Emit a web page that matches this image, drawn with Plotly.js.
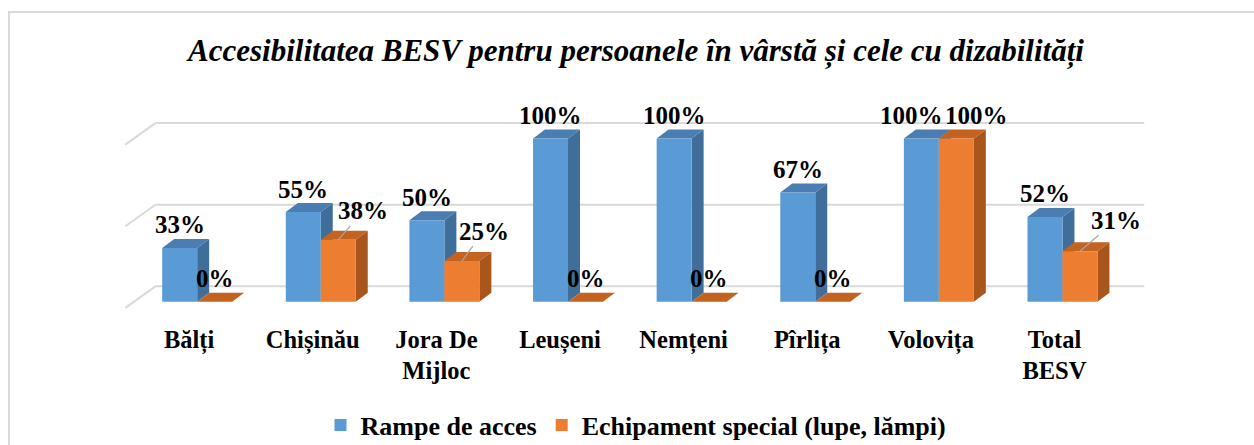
<!DOCTYPE html>
<html><head><meta charset="utf-8">
<script src="https://cdn.plot.ly/plotly-3.0.1.min.js"></script>
<style>
html,body{margin:0;padding:0;background:#fff;overflow:hidden;}
#frame{position:absolute;left:8px;top:11px;width:1300px;height:500px;border-left:2px solid #dadada;border-top:2px solid #dadada;}
#chart{position:absolute;left:0;top:0;width:1254px;height:445px;}
</style></head><body>
<div id="frame"></div>
<div id="chart"></div>
<script>
// ---- data ----
const categories = ['Bălți', 'Chișinău', 'Jora De<br>Mijloc', 'Leușeni', 'Nemțeni', 'Pîrlița', 'Volovița', 'Total<br>BESV'];
const rampe = [33, 55, 50, 100, 100, 67, 100, 52];
const echipament = [0, 38, 25, 0, 0, 0, 100, 31];
const seriesNames = ['Rampe de acces', 'Echipament special (lupe, lămpi)'];
const gridValues = [0, 50, 100];
const titleText = 'Accesibilitatea BESV pentru persoanele în vârstă și cele cu dizabilități';

// ---- style ----
const FONT = 'Liberation Serif';
const W = 0.283;     // bar width (x units)
const DX = 0.097;    // 3D depth in x units
const DY = 5.5;      // 3D depth in y units
const GDX = 0.162;   // back-wall depth x
const GDY = 9.5;     // back-wall depth y
const colors = {
  blue: '#5b9bd5', blueSide: '#3f6e9b', blueTop: '#4a7db2',
  orange: '#ed7d31', orangeSide: '#a9561c', orangeTop: '#c4621f'
};
// label nudges (pixels): plain labels use xshift, leader labels use ax/ay
const blueShift = [0, 0, 0, 0, 0, 0, -10, 0];
const orangeShift = [0, 0, 0, 0, 0, 0, 20, 0];
const orangeLeader = {1: [25, -29], 2: [22, -30], 7: [36, -31]};

const xs = categories.map((c, i) => i);

const traces = [
  {type: 'bar', x: xs, y: rampe, name: seriesNames[0], width: W, offset: -W,
   marker: {color: colors.blue, line: {width: 0}}, hoverinfo: 'skip'},
  {type: 'bar', x: xs, y: echipament, name: seriesNames[1], width: W, offset: 0,
   marker: {color: colors.orange, line: {width: 0}}, hoverinfo: 'skip'}
];

const shapes = [];
// back-wall gridlines
gridValues.forEach(v => {
  shapes.push({type: 'line', layer: 'below', xref: 'x', yref: 'y',
    x0: -0.5 + GDX, x1: 7.5 + GDX, y0: v + GDY, y1: v + GDY,
    line: {color: '#d9d9d9', width: 2}});
  shapes.push({type: 'line', layer: 'below', xref: 'x', yref: 'y',
    x0: -0.5 - GDX / 2, x1: -0.5 + GDX, y0: v - GDY * 0.39, y1: v + GDY,
    line: {color: '#d9d9d9', width: 2}});
});
function box3d(xl, xr, v, side, top) {
  shapes.push({type: 'path', layer: 'between', xref: 'x', yref: 'y',
    path: `M${xr},0 L${xr + DX},${DY} L${xr + DX},${v + DY} L${xr},${v} Z`,
    fillcolor: side, line: {width: 0}});
  shapes.push({type: 'path', layer: 'between', xref: 'x', yref: 'y',
    path: `M${xl},${v} L${xl + DX},${v + DY} L${xr + DX},${v + DY} L${xr},${v} Z`,
    fillcolor: top, line: {width: 0}});
}
xs.forEach(i => box3d(i - W, i, rampe[i], colors.blueSide, colors.blueTop));
xs.forEach(i => box3d(i, i + W, echipament[i], colors.orangeSide, colors.orangeTop));

const labelFont = {family: FONT, size: 25, color: '#000', weight: 'bold'};
const annotations = [];
xs.forEach(i => {
  annotations.push({xref: 'x', yref: 'y', x: i - W / 2, y: rampe[i], text: rampe[i] + '%',
    showarrow: false, xanchor: 'center', yanchor: 'middle',
    xshift: blueShift[i], yshift: 23, font: labelFont});
  if (orangeLeader[i]) {
    annotations.push({xref: 'x', yref: 'y', x: i + W / 2, y: echipament[i], text: echipament[i] + '%',
      showarrow: true, arrowhead: 0, arrowwidth: 1.2, arrowcolor: '#a6a6a6',
      ax: orangeLeader[i][0], ay: orangeLeader[i][1], standoff: 0, font: labelFont});
  } else {
    annotations.push({xref: 'x', yref: 'y', x: i + W / 2, y: echipament[i], text: echipament[i] + '%',
      showarrow: false, xanchor: 'center', yanchor: 'middle',
      xshift: orangeShift[i], yshift: 23, font: labelFont});
  }
});

const layout = {
  width: 1254, height: 445,
  margin: {l: 123, r: 105, t: 119, b: 135},
  paper_bgcolor: 'rgba(0,0,0,0)', plot_bgcolor: 'rgba(0,0,0,0)',
  barmode: 'overlay',
  title: {text: titleText, x: 0.5, xref: 'paper', xanchor: 'center',
    y: 0.888, yref: 'container', yanchor: 'middle',
    font: {family: FONT, size: 31, color: '#000', weight: 'bold', style: 'italic'}},
  xaxis: {range: [-0.6, 7.7], tickmode: 'array', tickvals: xs.map(i => i - 0.065), ticktext: categories,
    showgrid: false, zeroline: false, showline: false, ticks: '', ticklabelstandoff: 12,
    tickfont: {family: FONT, size: 24.5, color: '#000', weight: 'bold'}, fixedrange: true},
  yaxis: {range: [-5, 112], showgrid: false, zeroline: false, showline: false,
    showticklabels: false, ticks: '', fixedrange: true},
  showlegend: true,
  legend: {orientation: 'h', x: 0.5, xanchor: 'center', y: 0.045, yref: 'container', yanchor: 'middle',
    font: {family: FONT, size: 26, color: '#000', weight: 'bold'}, bgcolor: 'rgba(0,0,0,0)'},
  shapes: shapes,
  annotations: annotations
};

Plotly.newPlot('chart', traces, layout, {displayModeBar: false, staticPlot: true});
</script>
</body></html>
